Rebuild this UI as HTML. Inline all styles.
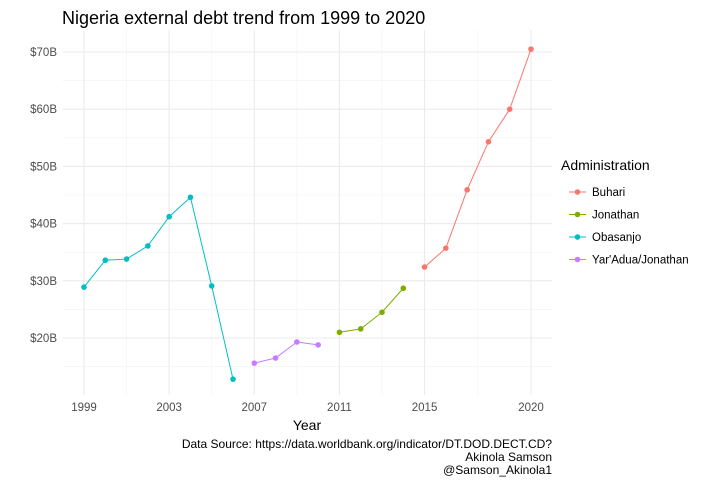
<!DOCTYPE html>
<html><head><meta charset="utf-8"><style>
body{margin:0;background:#fff;font-family:"Liberation Sans",Arial,sans-serif}
svg text{font-family:"Liberation Sans",Arial,sans-serif}
</style></head><body>
<svg id="c" width="722" height="484">
<text x="62" y="24" font-size="18" fill="#000">Nigeria external debt trend from 1999 to 2020</text>
<g id="grid"></g><g id="marks"></g><g id="axes"></g>
<text x="307" y="430" font-size="14" text-anchor="middle" fill="#000">Year</text>
<text x="552" y="448" font-size="12" text-anchor="end" fill="#000">Data Source: https://data.worldbank.org/indicator/DT.DOD.DECT.CD?</text>
<text x="552" y="461" font-size="12" text-anchor="end" fill="#000">Akinola Samson</text>
<text x="552" y="474" font-size="12" text-anchor="end" fill="#000">@Samson_Akinola1</text>
<g>
<text x="561" y="170" font-size="14" fill="#000">Administration</text>
<g id="leg"></g>
</g>
</svg>
<script>
const years=[1999,2000,2001,2002,2003,2004,2005,2006,2007,2008,2009,2010,2011,2012,2013,2014,2015,2016,2017,2018,2019,2020];
const debt=[28.9,33.6,33.8,36.1,41.2,44.6,29.1,12.8,15.6,16.5,19.3,18.8,21.0,21.6,24.5,28.7,32.4,35.7,45.9,54.3,60.0,70.5];
const admin=["Obasanjo","Obasanjo","Obasanjo","Obasanjo","Obasanjo","Obasanjo","Obasanjo","Obasanjo","Yar'Adua/Jonathan","Yar'Adua/Jonathan","Yar'Adua/Jonathan","Yar'Adua/Jonathan","Jonathan","Jonathan","Jonathan","Jonathan","Buhari","Buhari","Buhari","Buhari","Buhari","Buhari"];
const groups=["Buhari","Jonathan","Obasanjo","Yar'Adua/Jonathan"];
const colors=["#F8766D","#7CAE00","#00BFC4","#C77CFF"];
const xTicks=[1999,2003,2007,2011,2015,2020];
const xMinor=[2001,2005,2009,2013,2017.5];
const yTicks=[20,30,40,50,60,70];
const yMinor=[15,25,35,45,55,65];
const NS="http://www.w3.org/2000/svg";
const X=v=>84+(v-1999)*447/21;
const Y=v=>338-(v-20)*5.72;
function mk(p,t,a){const e=document.createElementNS(NS,t);for(const k in a)e.setAttribute(k,a[k]);p.appendChild(e);return e;}
const g=document.getElementById('grid'),m=document.getElementById('marks'),ax=document.getElementById('axes'),lg=document.getElementById('leg');
const L=63,R=552,T=30,B=395;
xMinor.forEach(v=>{const e=mk(g,'line',{x1:X(v),x2:X(v),y1:T,y2:B,stroke:'#f2f2f2','stroke-width':0.6});

});
yMinor.forEach(v=>{const e=mk(g,'line',{x1:L,x2:R,y1:Y(v),y2:Y(v),stroke:'#f2f2f2','stroke-width':0.6});

});
xTicks.forEach(v=>{const e=mk(g,'line',{x1:X(v),x2:X(v),y1:T,y2:B,stroke:'#ebebeb','stroke-width':1.1});


const t=mk(ax,'text',{x:X(v),y:411,'font-size':11.5,fill:'#4d4d4d','text-anchor':'middle'});t.textContent=v;

});
yTicks.forEach(v=>{const e=mk(g,'line',{x1:L,x2:R,y1:Y(v),y2:Y(v),stroke:'#ebebeb','stroke-width':1.1});


const t=mk(ax,'text',{x:57,y:Y(v)+4,'font-size':11.5,fill:'#4d4d4d','text-anchor':'end'});t.textContent='$'+v+'B';

});
groups.forEach((gr,gi)=>{
 const idx=years.map((y,i)=>i).filter(i=>admin[i]===gr);
 const pts=idx.map(i=>X(years[i])+','+Y(debt[i])).join(' ');
 const pl=mk(m,'polyline',{points:pts,fill:'none',stroke:colors[gi],'stroke-width':1});
 
 
 idx.forEach(i=>{const c=mk(m,'circle',{cx:X(years[i]),cy:Y(debt[i]),r:2.8,fill:colors[gi]});
 
 });
 const ly=192+gi*22.5;
 const ll=mk(lg,'line',{x1:569,x2:586,y1:ly,y2:ly,stroke:colors[gi],'stroke-width':1});
 
 
 const lc=mk(lg,'circle',{cx:577.5,cy:ly,r:2.8,fill:colors[gi]});
 
 
 const lt=mk(lg,'text',{x:592,y:ly+4,'font-size':11.5,fill:'#000'});lt.textContent=gr;
 
 
});
</script>
</body></html>
